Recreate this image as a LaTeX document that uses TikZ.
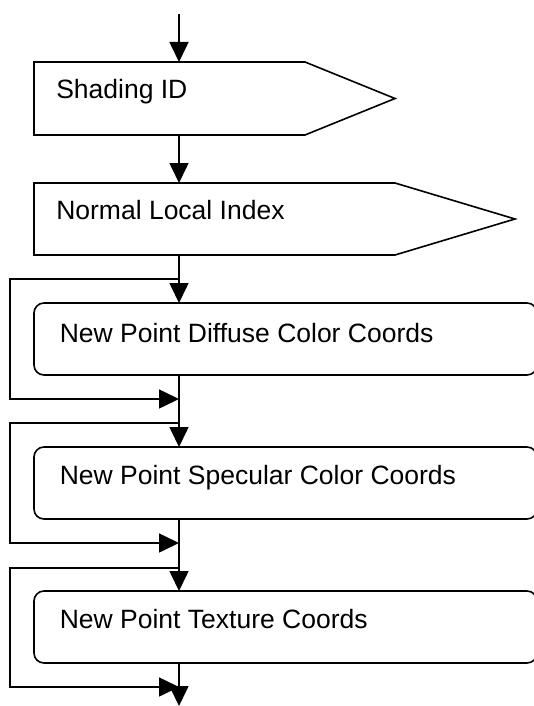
\documentclass[tikz,border=0pt]{standalone}
\usepackage{fontspec}
\setmainfont{Liberation Sans}
\usetikzlibrary{arrows.meta}
\begin{document}
\begin{tikzpicture}[x=1pt,y=-1pt,line width=1.6pt,line join=miter,
  arr/.style={-{Triangle[length=20pt,width=19pt]}},
  area/.style={draw=none,inner sep=0pt,outer sep=0pt,anchor=north west},
  rbox/.style={draw,rounded corners=10pt,inner sep=0pt,outer sep=0pt,anchor=north west,minimum width=503pt,minimum height=72pt},
  lbl/.style={inner sep=0pt,anchor=base west,font=\fontsize{26.5}{32}\selectfont}]
\useasboundingbox (0,0) rectangle (534,706);
\fill[white] (0,0) rectangle (534,706);
\clip (0,0) rectangle (534,706);
% main axis
\coordinate (start) at (179,14);
% pentagon boxes (areas) and outlines
\node[area,minimum width=271pt,minimum height=73pt] (sid) at (34,62) {};
\draw (sid.north west) -- (sid.north east) -- (395,98.5) -- (sid.south east) -- (sid.south west) -- cycle;
\node[lbl] (tsid) at (55.5,99) {Shading ID};
\node[area,minimum width=361pt,minimum height=72pt] (nli) at (34,183) {};
\draw (nli.north west) -- (nli.north east) -- (515,219) -- (nli.south east) -- (nli.south west) -- cycle;
\node[lbl] (tnli) at (55.5,219) {Normal Local Index};
% rounded boxes
\node[rbox] (dif) at (34,303) {};
\node[lbl] (tdif) at (59,342) {New Point Diffuse Color Coords};
\node[rbox] (spe) at (34,447) {};
\node[lbl] (tspe) at (59,484) {New Point Specular Color Coords};
\node[rbox] (tex) at (34,591) {};
\node[lbl] (ttex) at (59,628) {New Point Texture Coords};
\coordinate (end) at (179,706);
% main connectors
\draw[arr] (start) -- (start |- sid.north);
\draw[arr] (sid.south -| start) -- (nli.north -| start);
\draw[arr] (nli.south -| start) -- (dif.north -| start);
\draw[arr] (dif.south -| start) -- (spe.north -| start);
\draw[arr] (spe.south -| start) -- (tex.north -| start);
\draw[arr] (tex.south -| start) -- (end);
% bypass loops
\coordinate (l1a) at (179,279); \coordinate (l1b) at (179,399);
\coordinate (l2a) at (179,423); \coordinate (l2b) at (179,543);
\coordinate (l3a) at (179,568); \coordinate (l3b) at (179,687);
\draw[arr] (l1a) -| (10,399) -- (l1b);
\draw[arr] (l2a) -| (10,543) -- (l2b);
\draw[arr] (l3a) -| (10,687) -- (l3b);
\end{tikzpicture}
\end{document}
